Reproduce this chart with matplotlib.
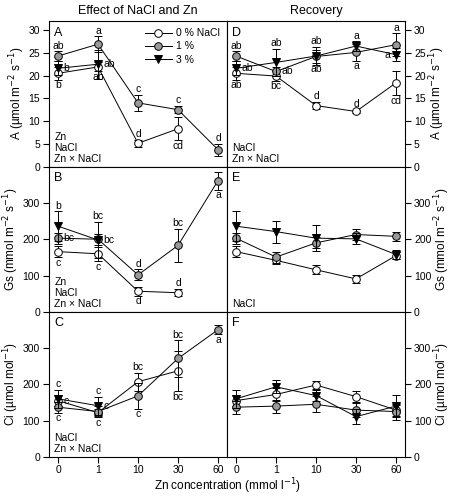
import numpy as np
import matplotlib.pyplot as plt
from matplotlib.lines import Line2D

plt.rcParams['font.family'] = ['Liberation Sans', 'DejaVu Sans']
plt.rcParams['font.size'] = 7

nan = np.nan
x_labels = ['0', '1', '10', '30', '60']
series = ['0 % NaCl', '1 %', '3 %']

# A: net photosynthesis (effect / recovery)
A_eff = {'0': [20.5, 21.9, 5.1, 8.3, nan], '1': [24.3, 26.9, 14.0, 12.5, 3.7], '3': [21.6, 22.5, nan, nan, nan]}
A_eff_err = {'0': [1.4, 1.0, 0.7, 2.5, nan], '1': [1.0, 1.7, 1.7, 0.8, 1.3], '3': [1.5, 3.2, nan, nan, nan]}
A_rec = {'0': [20.5, 19.9, 13.4, 12.1, 18.4], '1': [24.3, 20.9, 24.2, 25.1, 26.8], '3': [21.6, 22.9, 24.3, 26.5, 24.6]}
A_rec_err = {'0': [1.4, 1.0, 0.8, 0.4, 2.7], '1': [1.0, 1.0, 1.5, 1.8, 2.5], '3': [1.5, 3.0, 2.0, 1.0, 1.5]}

# Gs: stomatal conductance
Gs_eff = {'0': [166, 160, 57, 53, nan], '1': [203, 200, 102, 183, 361], '3': [236, 198, nan, nan, nan]}
Gs_eff_err = {'0': [15, 20, 12, 10, nan], '1': [15, 15, 15, 45, 25], '3': [41, 50, nan, nan, nan]}
Gs_rec = {'0': [166, 142, 116, 91, 155], '1': [203, 151, 190, 213, 208], '3': [236, 221, 203, 201, 158]}
Gs_rec_err = {'0': [15, 10, 12, 12, 10], '1': [15, 15, 15, 15, 12], '3': [41, 30, 35, 15, 12]}

# Ci: intercellular CO2
Ci_eff = {'0': [155, 122, 207, 237, nan], '1': [137, 125, 168, 271, 350], '3': [160, 141, nan, nan, nan]}
Ci_eff_err = {'0': [15, 10, 25, 55, nan], '1': [15, 15, 35, 50, 12], '3': [25, 25, nan, nan, nan]}
Ci_rec = {'0': [155, 172, 198, 166, 129], '1': [137, 140, 145, 129, 125], '3': [160, 193, 169, 111, 140]}
Ci_rec_err = {'0': [15, 18, 12, 15, 15], '1': [18, 18, 22, 20, 22], '3': [25, 18, 15, 20, 30]}

# significance letters: (x index, series, text, where)
A_eff_letters = [(0, '1', 'ab', 'above'), (0, '3', 'b', 'right'), (0, '0', 'b', 'below'),
                 (1, '1', 'a', 'above'), (1, '3', 'ab', 'right'), (1, '0', 'ab', 'below'),
                 (2, '1', 'c', 'above'), (2, '0', 'd', 'above'), (3, '1', 'c', 'above'),
                 (3, '0', 'cd', 'below'), (4, '1', 'd', 'above')]
A_rec_letters = [(0, '1', 'ab', 'above'), (0, '3', 'ab', 'right'), (0, '0', 'ab', 'below'),
                 (1, '3', 'ab', 'above'), (1, '1', 'ab', 'right'), (1, '0', 'bc', 'below'),
                 (2, '3', 'ab', 'above'), (2, '1', 'ab', 'below'), (2, '0', 'd', 'above'),
                 (3, '3', 'a', 'above'), (3, '1', 'a', 'below'), (3, '0', 'd', 'above'),
                 (4, '1', 'a', 'above'), (4, '3', 'a', 'left'), (4, '0', 'cd', 'below')]
Gs_eff_letters = [(0, '3', 'b', 'above'), (0, '1', 'bc', 'right'), (0, '0', 'c', 'below'),
                  (1, '3', 'bc', 'above'), (1, '3', 'bc', 'right'), (1, '0', 'c', 'below'),
                  (2, '1', 'd', 'above'), (2, '0', 'd', 'below'), (3, '1', 'bc', 'above'),
                  (3, '0', 'd', 'above'), (4, '1', 'a', 'below')]
Ci_eff_letters = [(0, '3', 'c', 'above'), (0, '0', 'c', 'right'), (0, '1', 'c', 'below'),
                  (1, '3', 'c', 'above'), (1, '3', 'c', 'right'), (1, '1', 'c', 'below'),
                  (2, '0', 'bc', 'above'), (2, '1', 'c', 'below'), (3, '1', 'bc', 'above'),
                  (3, '0', 'bc', 'below'), (4, '1', 'a', 'below')]

styles = {'0': dict(marker='o', mfc='white'), '1': dict(marker='o', mfc='#999999'),
          '3': dict(marker='v', mfc='black')}
zord = {'0': 3, '1': 4, '3': 5}

panels = [
    ('A', A_eff, A_eff_err, A_eff_letters, ['Zn', 'NaCl', 'Zn × NaCl'], 32, range(0, 31, 5), 'A (µmol m$^{-2}$ s$^{-1}$)'),
    ('D', A_rec, A_rec_err, A_rec_letters, ['NaCl', 'Zn × NaCl'], 32, range(0, 31, 5), 'A (µmol m$^{-2}$ s$^{-1}$)'),
    ('B', Gs_eff, Gs_eff_err, Gs_eff_letters, ['Zn', 'NaCl', 'Zn × NaCl'], 400, range(0, 301, 100), 'Gs (mmol m$^{-2}$ s$^{-1}$)'),
    ('E', Gs_rec, Gs_rec_err, [], ['NaCl'], 400, range(0, 301, 100), 'Gs (mmol m$^{-2}$ s$^{-1}$)'),
    ('C', Ci_eff, Ci_eff_err, Ci_eff_letters, ['NaCl', 'Zn × NaCl'], 400, range(0, 301, 100), 'Ci (µmol mol$^{-1}$)'),
    ('F', Ci_rec, Ci_rec_err, [], [], 400, range(0, 301, 100), 'Ci (µmol mol$^{-1}$)'),
]

fig = plt.figure(figsize=(4.55, 4.96), dpi=100)
lefts = [49 / 455, 227 / 455]
bottoms = [0.6643, 0.371, 0.0786]
w, h = 178 / 455, 0.2933
x = np.arange(len(x_labels))

for i, (letter, data, err, letters, stats, ymax, yt, ylab) in enumerate(panels):
    row, col = divmod(i, 2)
    ax = fig.add_axes([lefts[col], bottoms[row], w, h])
    for k in ['0', '1', '3']:
        ax.errorbar(x, data[k], yerr=err[k], color='black', lw=0.7, elinewidth=0.7,
                    capsize=3, capthick=0.7, ms=5.5, mec='black', mew=0.7,
                    zorder=zord[k], **styles[k])
    for xi, k, t, where in letters:
        y, e = data[k][xi], err[k][xi]
        if where == 'above':
            ax.annotate(t, (xi, y + e), xytext=(0, 0.5), textcoords='offset points',
                        ha='center', va='bottom', fontsize=7.5)
        elif where == 'below':
            ax.annotate(t, (xi, y - e), xytext=(0, -0.5), textcoords='offset points',
                        ha='center', va='top', fontsize=7.5)
        elif where == 'right':
            ax.annotate(t, (xi, y), xytext=(4, 0), textcoords='offset points',
                        ha='left', va='center', fontsize=7.5)
        else:
            ax.annotate(t, (xi, y), xytext=(-4, 0), textcoords='offset points',
                        ha='right', va='center', fontsize=7.5)
    ax.set_xlim(-0.225, 4.225)
    ax.set_ylim(0, ymax)
    ax.set_yticks(list(yt))
    ax.set_xticks(x)
    ax.tick_params(direction='out', length=4.5, width=0.8, labelsize=7.5, pad=2)
    ax.tick_params(axis='x', pad=1.5)
    for s in ax.spines.values():
        s.set_linewidth(0.8)
    if row == 2:
        ax.set_xticklabels(x_labels)
    else:
        ax.set_xticklabels([])
    if col == 1:
        ax.yaxis.tick_right()
        ax.yaxis.set_label_position('right')
    ax.set_ylabel(ylab, fontsize=8.5, labelpad=1)
    ax.text(0.03, 0.96, letter, transform=ax.transAxes, ha='left', va='top', fontsize=9)
    if stats:
        ax.text(0.03, 0.02, '\n'.join(stats), transform=ax.transAxes, ha='left',
                va='bottom', fontsize=7.5, linespacing=1.1)
    if i == 0:
        ax.set_title('Effect of NaCl and Zn', fontsize=9, pad=5)
        handles = [Line2D([], [], color='black', lw=0.7, ms=5.5, mec='black', mew=0.7, **styles[k])
                   for k in ['0', '1', '3']]
        ax.legend(handles, series, loc='upper right', frameon=False, fontsize=7.5,
                  handlelength=2.6, borderaxespad=0.3, labelspacing=0.3, handletextpad=0.4)
    if i == 1:
        ax.set_title('Recovery', fontsize=9, pad=5)

fig.text(0.5, 0.0, 'Zn concentration (mmol l$^{-1}$)', ha='center', va='bottom', fontsize=8.5)
fig.savefig('out.png', dpi=100)
